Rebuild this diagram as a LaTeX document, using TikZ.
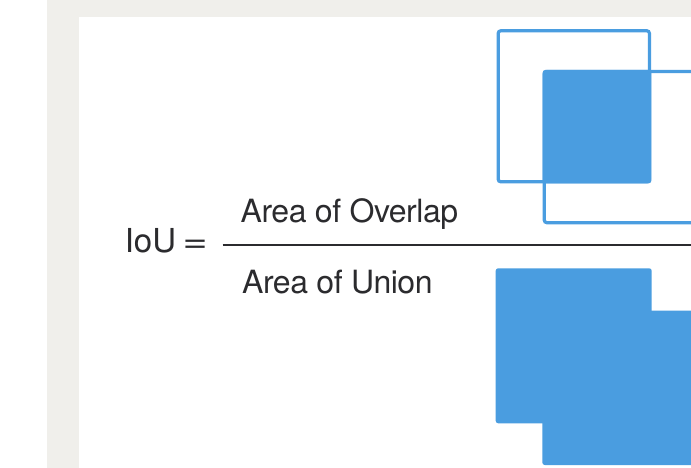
\documentclass[tikz,border=0pt]{standalone}
\usepackage{fontspec}
\setmainfont{TeX Gyre Heros}[LetterSpace=-1.5]
\newfontfamily\plainhv{TeX Gyre Heros}
\definecolor{bggray}{HTML}{F0EFEB}
\definecolor{ioublue}{HTML}{4A9DE0}
\definecolor{txt}{HTML}{2B2B2E}
\tikzset{
  lbl/.style={inner sep=0pt, anchor=base west, text=txt, font=\fontsize{32}{38}\selectfont},
  outlinebox/.style={draw=ioublue, line width=3.2pt, rounded corners=2.5pt},
  filledbox/.style={fill=ioublue, rounded corners=2.5pt},
}
\begin{document}
\begin{tikzpicture}[x=1pt,y=-1pt]
\useasboundingbox (0,0) rectangle (691,468);
\fill[bggray] (47,0) rectangle (691,468);
\fill[white] (78.5,17) rectangle (691,468);
\begin{scope}
\clip (0,0) rectangle (691,468);
% overlap illustration
\draw[outlinebox] (498.2,30.8) rectangle (649.4,181.8);
\draw[outlinebox] (544.3,71.6) rectangle (698,222.7);
\fill[filledbox] (542.7,70) rectangle (651.3,183.3);
% union illustration
\fill[filledbox] (495.7,268.3) rectangle (651.7,423.3);
\fill[filledbox] (542.3,310.7) rectangle (700,465);
% fraction bar
\draw[txt, line width=2.2pt] (222.7,245) -- (691,245);
\end{scope}
\node[lbl, font=\plainhv\fontsize{33}{38}\selectfont] (iou) at (124.6,252.7) {IoU\hspace{6.5pt}\scalebox{1.3}[1]{=}};
\node[lbl] (num) at (240.5,222.7) {Area of Overlap};
\node[lbl] (den) at (242,293.3) {Area of Union};
\end{tikzpicture}
\end{document}
